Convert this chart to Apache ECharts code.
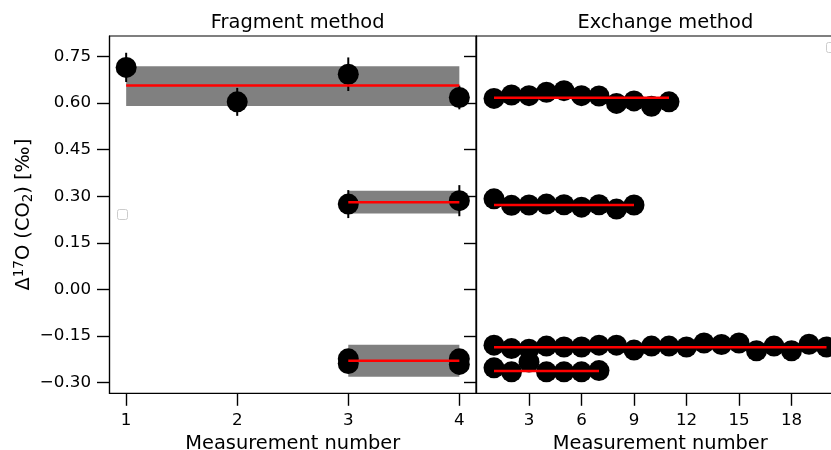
<!DOCTYPE html>
<html>
<head>
<meta charset="utf-8">
<script src="https://cdn.jsdelivr.net/npm/echarts@6/dist/echarts.min.js"></script>
<style>html,body{margin:0;padding:0;background:#fff}#c{width:831px;height:450px}</style>
</head>
<body>
<div id="c"></div>
<script>
// ---- Data ----
const yTicks = [-0.30, -0.15, 0.00, 0.15, 0.30, 0.45, 0.60, 0.75];
const fragXTicks = [1, 2, 3, 4];
const exchXTicks = [3, 6, 9, 12, 15, 18];

// Fragment method groups: x, value, error
const fragG1X = [1, 2, 3, 4];
const fragG1Y = [0.715, 0.604, 0.693, 0.618];
const fragG1E = [0.047, 0.045, 0.054, 0.038];
const fragG2X = [3, 4];
const fragG2Y = [0.275, 0.286];
const fragG2E = [0.045, 0.050];
const fragG3X = [3, 3, 4, 4];
const fragG3Y = [-0.223, -0.238, -0.223, -0.241];
const fragG3E = [0.020, 0.020, 0.020, 0.020];
// group mean and spread bands
const fragMean = [0.657, 0.281, -0.229];
const fragLo = [0.591, 0.245, -0.281];
const fragHi = [0.719, 0.318, -0.178];
const fragFrom = [1, 3, 3];
const fragTo = [4, 4, 4];

// Exchange method rows (x = 1..n)
const exchA = [0.615, 0.626, 0.624, 0.635, 0.640, 0.624, 0.623, 0.599, 0.607, 0.590, 0.604];
const exchB = [0.292, 0.271, 0.272, 0.275, 0.273, 0.265, 0.273, 0.259, 0.272];
const exchC = [-0.179, -0.190, -0.192, -0.182, -0.185, -0.185, -0.179, -0.179, -0.195, -0.182,
               -0.182, -0.185, -0.172, -0.177, -0.172, -0.197, -0.182, -0.197, -0.176, -0.185];
const exchD = [-0.252, -0.265, -0.233, -0.265, -0.265, -0.265, -0.261];
const exchMean = [0.617, 0.272, -0.186, -0.262];

// ---- Chart ----
const FONT = 'DejaVu Sans';
const chart = echarts.init(document.getElementById('c'), null, {renderer: 'canvas'});
const fmtY = v => v.toFixed(2).replace('-', '\u2212');

const pts = (xs, ys) => xs.map((x, i) => [x, ys[i]]);
const errs = (xs, ys, es) => xs.map((x, i) => [x, ys[i], es[i]]);
const idx = arr => arr.map((v, i) => [i + 1, v]);

function errRender(params, api) {
  const x = api.value(0), y = api.value(1), e = api.value(2);
  const a = api.coord([x, y - e]), b = api.coord([x, y + e]);
  return {type: 'line', shape: {x1: a[0], y1: a[1], x2: b[0], y2: b[1]},
          style: {stroke: '#000', lineWidth: 2}};
}
function bandRender(params, api) {
  const a = api.coord([api.value(0), api.value(3)]);
  const b = api.coord([api.value(1), api.value(2)]);
  return {type: 'rect', shape: {x: a[0], y: a[1], width: b[0] - a[0], height: b[1] - a[1]},
          style: {fill: '#808080'}};
}

const axisLineStyle = {onZero: false, lineStyle: {color: '#000', width: 1.2}};
const tickStyle = {show: true, inside: false, length: 12.5, lineStyle: {color: '#000', width: 1.4}};
const labelStyle = {color: '#000', fontFamily: FONT, fontSize: 16.7};
const nameStyle = {color: '#000', fontFamily: FONT, fontSize: 19.4};

const scatter = (data, xi) => ({
  type: 'scatter', xAxisIndex: xi, yAxisIndex: xi, data: data,
  symbol: 'circle', symbolSize: 21, itemStyle: {color: '#000', opacity: 1}, z: 3,
  emphasis: {disabled: true}, silent: true
});
const meanLine = (data, xi) => ({
  type: 'line', xAxisIndex: xi, yAxisIndex: xi, data: data, symbol: 'none',
  lineStyle: {color: '#ff0000', width: 2.5}, z: 5, silent: true, animation: false
});

const series = [];
// bands
series.push({
  type: 'custom', xAxisIndex: 0, yAxisIndex: 0, renderItem: bandRender, z: 1, silent: true,
  encode: {x: [0, 1], y: [2, 3]},
  data: fragMean.map((m, i) => [fragFrom[i], fragTo[i], fragLo[i], fragHi[i]])
});
// error bars
series.push({
  type: 'custom', xAxisIndex: 0, yAxisIndex: 0, renderItem: errRender, z: 2, silent: true,
  encode: {x: 0, y: 1},
  data: errs(fragG1X, fragG1Y, fragG1E).concat(errs(fragG2X, fragG2Y, fragG2E), errs(fragG3X, fragG3Y, fragG3E))
});
series.push(scatter(pts(fragG1X, fragG1Y), 0));
series.push(scatter(pts(fragG2X, fragG2Y), 0));
series.push(scatter(pts(fragG3X, fragG3Y), 0));
fragMean.forEach((m, i) => series.push(meanLine([[fragFrom[i], m], [fragTo[i], m]], 0)));

[exchA, exchB, exchC, exchD].forEach((row, i) => {
  series.push(scatter(idx(row), 1));
  series.push(meanLine([[1, exchMean[i]], [row.length, exchMean[i]]], 1));
});

const option = {
  animation: false,
  backgroundColor: '#fff',
  title: [
    {text: 'Fragment method', left: 292.7, top: 8, textAlign: 'center',
     textStyle: {fontFamily: FONT, fontSize: 19.4, fontWeight: 'normal', color: '#000'}},
    {text: 'Exchange method', left: 660.3, top: 8, textAlign: 'center',
     textStyle: {fontFamily: FONT, fontSize: 19.4, fontWeight: 'normal', color: '#000'}}
  ],
  grid: [
    {left: 109.5, top: 36, width: 366.5, height: 357.3, show: true, borderColor: '#000', borderWidth: 1.2,
     containLabel: false, outerBoundsMode: 'none'},
    {left: 476.5, top: 36, width: 367.5, height: 357.3, show: true, borderColor: '#000', borderWidth: 1.2,
     containLabel: false, outerBoundsMode: 'none'}
  ],
  xAxis: [
    {type: 'value', gridIndex: 0, min: 0.85, max: 4.15,
     axisLine: axisLineStyle, axisTick: Object.assign({customValues: fragXTicks}, tickStyle),
     axisLabel: Object.assign({customValues: fragXTicks, margin: 19}, labelStyle),
     splitLine: {show: false},
     name: 'Measurement number', nameLocation: 'middle', nameGap: 39, nameTextStyle: nameStyle},
    {type: 'value', gridIndex: 1, min: 0, max: 21,
     axisLine: axisLineStyle, axisTick: Object.assign({customValues: exchXTicks}, tickStyle),
     axisLabel: Object.assign({customValues: exchXTicks, margin: 19}, labelStyle),
     splitLine: {show: false},
     name: 'Measurement number', nameLocation: 'middle', nameGap: 39, nameTextStyle: nameStyle}
  ],
  yAxis: [
    {type: 'value', gridIndex: 0, min: -0.334, max: 0.816,
     axisLine: axisLineStyle, axisTick: Object.assign({customValues: yTicks}, tickStyle),
     axisLabel: Object.assign({customValues: yTicks, formatter: fmtY, margin: 18.5}, labelStyle),
     splitLine: {show: false},
     name: '\u0394{sup|17}O (CO{sub|2}) [\u2030]', nameLocation: 'middle', nameRotate: 90, nameGap: 67,
     nameTextStyle: Object.assign({}, nameStyle, {
       rich: {
         sup: {fontFamily: FONT, fontSize: 13.5, color: '#000', verticalAlign: 'bottom', padding: [0, 0, 9, 0]},
         sub: {fontFamily: FONT, fontSize: 13.5, color: '#000', verticalAlign: 'top', padding: [9, 0, 0, 0]}
       }
     })},
    {type: 'value', gridIndex: 1, min: -0.334, max: 0.816,
     axisLine: axisLineStyle, axisTick: Object.assign({customValues: yTicks}, tickStyle),
     axisLabel: {show: false}, splitLine: {show: false}}
  ],
  graphic: [
    {type: 'rect', shape: {x: 117.5, y: 209.5, width: 10, height: 10, r: 2},
     style: {fill: '#fff', stroke: '#cccccc', lineWidth: 1}, z: 10, silent: true},
    {type: 'rect', shape: {x: 826.5, y: 42.5, width: 10, height: 10, r: 2},
     style: {fill: '#fff', stroke: '#cccccc', lineWidth: 1}, z: 10, silent: true}
  ],
  series: series
};
chart.setOption(option);
</script>
</body>
</html>
